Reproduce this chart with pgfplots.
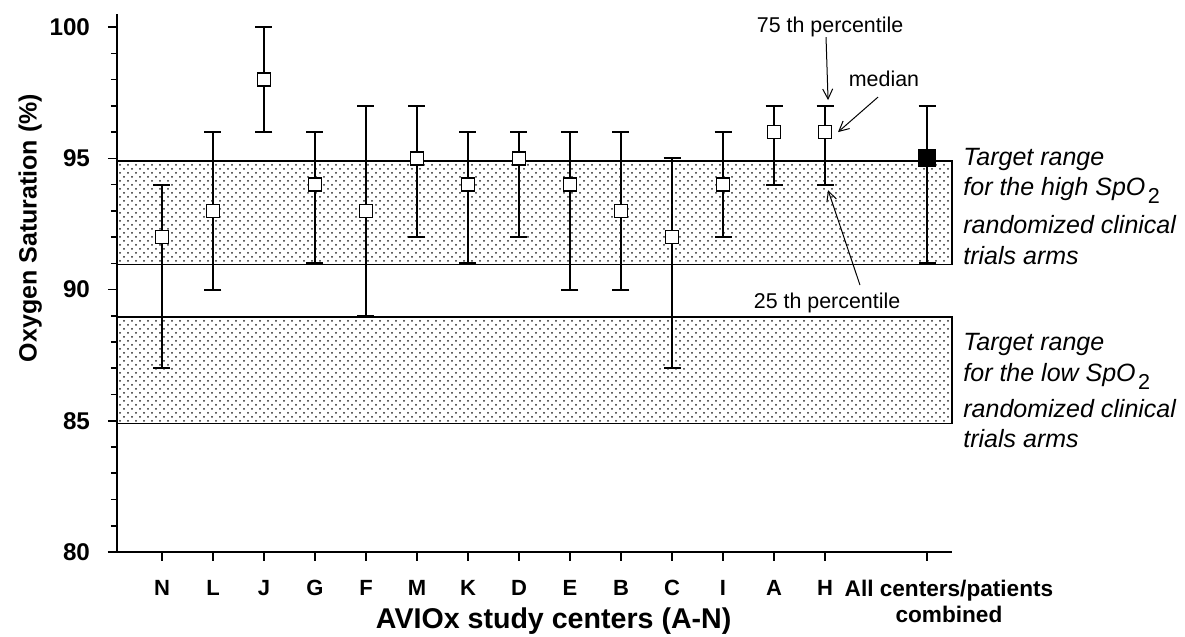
\documentclass[border=0pt]{standalone}
\usepackage{fontspec}
\setmainfont{Liberation Sans}
\usepackage{pgfplots}
\pgfplotsset{compat=1.18}
\usepackage{pgfplotstable}
\usetikzlibrary{patterns,arrows.meta}

\pgfdeclarepatternformonly{sparsedots}{\pgfqpoint{-1pt}{-1pt}}{\pgfqpoint{5pt}{5pt}}{\pgfqpoint{4pt}{4pt}}{%
  \pgfpathcircle{\pgfqpoint{0pt}{0pt}}{0.5pt}%
  \pgfpathcircle{\pgfqpoint{2pt}{2pt}}{0.5pt}%
  \pgfusepath{fill}}

\pgfplotstableread{
x  med lo  hi
1  92  87  94
2  93  90  96
3  98  96  100
4  94  91  96
5  93  89  97
6  95  92  97
7  94  91  96
8  95  92  96
9  94  90  96
10 93  90  96
11 92  87  95
12 94  92  96
13 96  94  97
14 96  94  97
}\centers

\pgfplotstableread{
x  med lo  hi
16 95  91  97
}\allcenters

\begin{document}
\begin{tikzpicture}
\begin{axis}[
  scale only axis,
  width=417.5pt, height=269pt,
  xmin=0.118, xmax=16.49,
  ymin=80, ymax=100.5,
  clip=false,
  axis lines=left,
  axis line style={-, line width=1pt},
  x axis line style={shorten <=-4.5pt},
  tick align=outside,
  major tick length=4.5pt,
  minor tick length=3pt,
  tick style={line width=0.8pt, black},
  xtick={1,...,14,16},
  xticklabels={N,L,J,G,F,M,K,D,E,B,C,I,A,H,{}},
  ytick={80,85,90,95,100},
  minor ytick={81,82,83,84,86,87,88,89,91,92,93,94,96,97,98,99},
  /pgf/number format/assume math mode=true,
  xticklabel style={font=\bfseries\fontsize{11}{13}\selectfont, yshift=-6pt},
  yticklabel style={font=\bfseries\fontsize{12.1}{14}\selectfont, xshift=-5.5pt},
  xlabel={AVIOx study centers (A-N)},
  ylabel={Oxygen Saturation (\%)},
  xlabel style={font=\bfseries\fontsize{14.3}{16}\selectfont, at={(axis description cs:0.523,-0.143)}, anchor=base},
  ylabel style={font=\bfseries\fontsize{12.5}{14}\selectfont, at={(axis description cs:-0.104,0.602)}, anchor=center},
]
% target ranges
\addplot[draw=black, line width=0.7pt, pattern=sparsedots, pattern color=black!85]
  coordinates {(0.118,90.95) (16.49,90.95) (16.49,94.9) (0.118,94.9)} --cycle;
\addplot[draw=black, line width=0.7pt, pattern=sparsedots, pattern color=black!85]
  coordinates {(0.118,84.9) (16.49,84.9) (16.49,88.95) (0.118,88.95)} --cycle;

% centers
\addplot[only marks, mark=square*, mark size=3.25pt,
  mark options={fill=white, draw=black, line width=0.75pt},
  error bars/.cd, y dir=both, y explicit,
  error bar style={line width=1pt, black},
  error mark options={rotate=90, mark size=4.25pt, line width=1pt, black}]
  table[x=x, y=med, y error plus expr=\thisrow{hi}-\thisrow{med}, y error minus expr=\thisrow{med}-\thisrow{lo}] {\centers};

% all combined
\addplot[only marks, mark=square*, mark size=4.2pt,
  mark options={fill=black, draw=black, line width=0.75pt},
  error bars/.cd, y dir=both, y explicit,
  error bar style={line width=1pt, black},
  error mark options={rotate=90, mark size=4.25pt, line width=1pt, black}]
  table[x=x, y=med, y error plus expr=\thisrow{hi}-\thisrow{med}, y error minus expr=\thisrow{med}-\thisrow{lo}] {\allcenters};

% combined label
\node[font=\bfseries\fontsize{11.3}{13}\selectfont, anchor=base] at (axis cs:16.43,78.286) {All centers/patients};
\node[font=\bfseries\fontsize{11.3}{13}\selectfont, anchor=base] at (axis cs:16.43,77.295) {combined};

% annotations
\node[font=\fontsize{10.7}{12}\selectfont, anchor=base] at (axis cs:14.1,99.81) {75 th percentile};
\node[font=\fontsize{10.7}{12}\selectfont, anchor=base] at (axis cs:15.157,97.752) {median};
\node[font=\fontsize{10.7}{12}\selectfont, anchor=base] at (axis cs:14.04,89.295) {25 th percentile};
\draw[line width=0.5pt, -{Straight Barb[length=5pt,width=5pt]}] (axis cs:14.02,99.62) -- (axis cs:14.06,97.22);
\draw[line width=0.5pt, -{Straight Barb[length=5pt,width=5pt]}] (axis cs:15.039,97.333) -- (axis cs:14.255,96.0);
\draw[line width=0.5pt, -{Straight Barb[length=5pt,width=5pt]}] (axis cs:14.686,90.171) -- (axis cs:14.06,93.79);

% right side texts
\begin{scope}[every node/.style={font=\itshape\fontsize{12.5}{14}\selectfont, anchor=base west, inner sep=0pt}]
\node at (axis cs:16.706,94.743) {Target range};
\node at (axis cs:16.706,93.6) {for the high SpO\kern1.2pt\raisebox{-4pt}{\upshape\fontsize{10.8}{12}\selectfont 2}};
\node at (axis cs:16.706,92.152) {randomized clinical};
\node at (axis cs:16.706,90.971) {trials arms};
\node at (axis cs:16.706,87.695) {Target range};
\node at (axis cs:16.706,86.514) {for the low SpO\kern1.2pt\raisebox{-4pt}{\upshape\fontsize{10.8}{12}\selectfont 2}};
\node at (axis cs:16.706,85.143) {randomized clinical};
\node at (axis cs:16.706,84.0) {trials arms};
\end{scope}
\end{axis}
\pgfresetboundingbox
\path (-58.5pt,-42.5pt) rectangle (534pt,276pt);
\end{tikzpicture}
\end{document}
